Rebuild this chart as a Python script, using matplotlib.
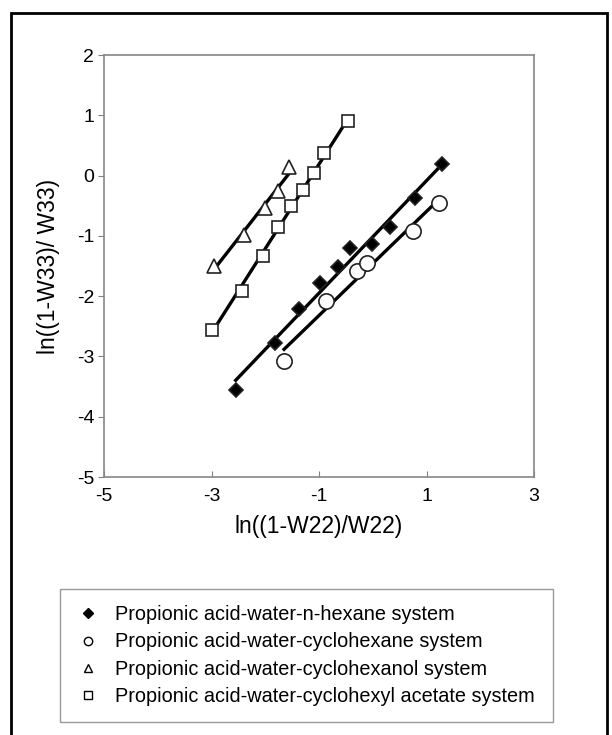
import matplotlib
matplotlib.use("Agg")
import matplotlib.pyplot as plt
import numpy as np
from matplotlib.lines import Line2D
from matplotlib.patches import Rectangle

plt.rcParams['font.family'] = ['Liberation Sans', 'DejaVu Sans']
plt.rcParams['axes.unicode_minus'] = False

# ln((1-W22)/W22) vs ln((1-W33)/W33) for each system
hexane_x = [-2.55, -1.82, -1.37, -0.98, -0.64, -0.42, -0.01, 0.33, 0.79, 1.28]
hexane_y = [-3.55, -2.78, -2.21, -1.78, -1.52, -1.20, -1.13, -0.85, -0.37, 0.19]

cyclohexane_x = [-1.65, -0.87, -0.29, -0.10, 0.74, 1.24]
cyclohexane_y = [-3.07, -2.08, -1.58, -1.45, -0.92, -0.45]

cyclohexanol_x = [-2.96, -2.40, -2.01, -1.77, -1.56]
cyclohexanol_y = [-1.50, -0.99, -0.54, -0.26, 0.14]

acetate_x = [-3.0, -2.44, -2.05, -1.77, -1.52, -1.30, -1.09, -0.91, -0.46]
acetate_y = [-2.56, -1.91, -1.33, -0.85, -0.50, -0.24, 0.04, 0.37, 0.91]

labels = ['Propionic acid-water-n-hexane system',
          'Propionic acid-water-cyclohexane system',
          'Propionic acid-water-cyclohexanol system',
          'Propionic acid-water-cyclohexyl acetate system']

series = [
    (hexane_x, hexane_y, 'D', 'black', 7),
    (cyclohexane_x, cyclohexane_y, 'o', 'white', 11),
    (cyclohexanol_x, cyclohexanol_y, '^', 'white', 9.5),
    (acetate_x, acetate_y, 's', 'white', 8.5),
]

fig = plt.figure(figsize=(6.12, 7.35), dpi=100)
ax = fig.add_axes([104/612, 1-477/735, 430/612, 422/735])

for xs, ys, mk, fc, ms in series:
    xs = np.array(xs)
    ys = np.array(ys)
    # linear fit drawn over the data range
    k, b = np.polyfit(xs, ys, 1)
    xl = np.array([xs.min(), xs.max()])
    ax.plot(xl, k*xl + b, color='black', lw=2.4, zorder=2)
    ax.plot(xs, ys, ls='none', marker=mk, ms=ms, mfc=fc, mec='#222222',
            mew=1.2, zorder=3)

ax.set_xlim(-5, 3)
ax.set_ylim(-5, 2)
ax.set_xticks([-5, -3, -1, 1, 3])
ax.set_yticks(range(-5, 3))
ax.tick_params(axis='x', direction='in', length=4, color='#808080',
               labelsize=14, pad=8)
ax.tick_params(axis='y', direction='out', length=4, color='#808080',
               labelsize=14, pad=3)
for s in ax.spines.values():
    s.set_color('#868686')
    s.set_linewidth(1.2)

ax.set_xlabel('ln((1-W22)/W22)', fontsize=16.5, labelpad=7)
ax.set_ylabel('ln((1-W33)/ W33)', fontsize=16.5, labelpad=12)

handles = [Line2D([], [], ls='none', marker='D', ms=5, mfc='black', mec='black'),
           Line2D([], [], ls='none', marker='o', ms=6, mfc='white', mec='black'),
           Line2D([], [], ls='none', marker='^', ms=6, mfc='white', mec='black'),
           Line2D([], [], ls='none', marker='s', ms=6, mfc='white', mec='black')]
leg = fig.legend(handles, labels, loc='upper left',
                 bbox_to_anchor=(60/612, 1-590/735, 493/612, 0.001),
                 mode='expand', fontsize=14.3, frameon=True, fancybox=False,
                 edgecolor='#808080', handlelength=1.2, handletextpad=0.75,
                 labelspacing=0.42, borderpad=0.8, borderaxespad=0)
leg.get_frame().set_linewidth(1.0)

# outer frame
fig.patches.append(Rectangle((11/612, -0.02), 596/612, 1.02-13/735,
                             transform=fig.transFigure, fill=False,
                             edgecolor='black', lw=2))

fig.savefig('out.png', dpi=100)
